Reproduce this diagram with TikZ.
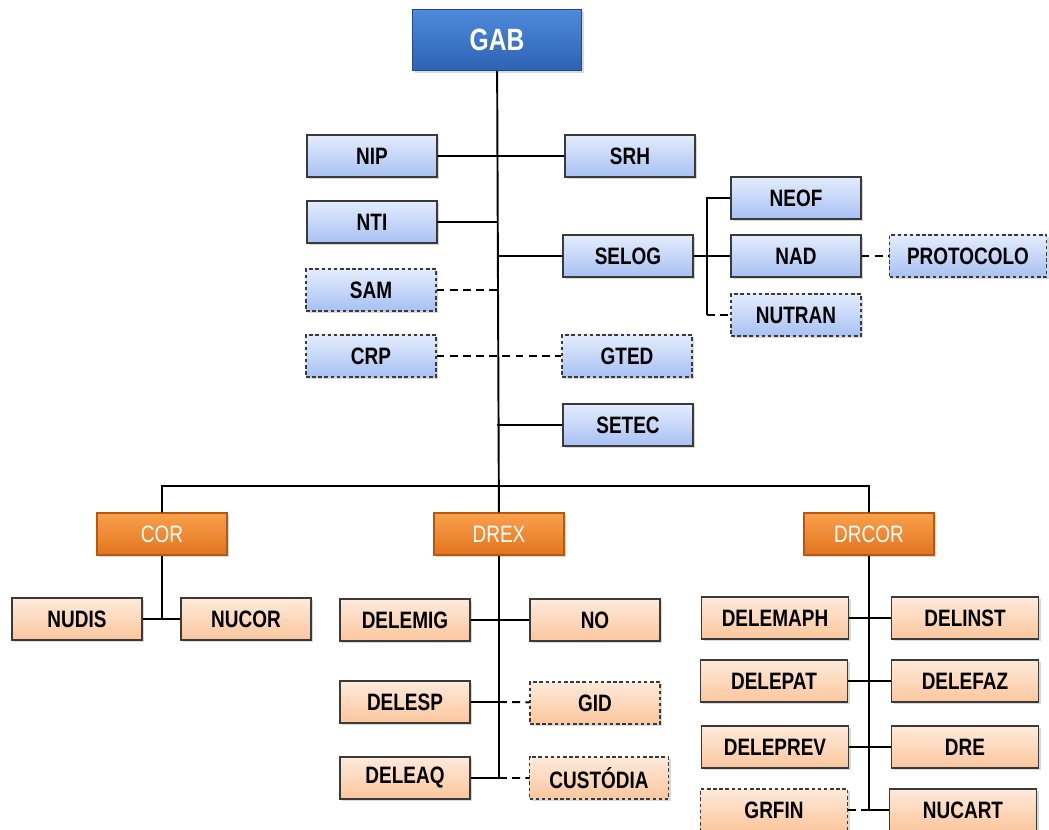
\documentclass[tikz,border=0pt]{standalone}
\usepackage{fontspec}
\setmainfont{Liberation Sans}[FakeStretch=0.8]
\usetikzlibrary{positioning, shadows}

\definecolor{gabtop}{HTML}{4F8BDB}
\definecolor{gabbot}{HTML}{2D62B4}
\definecolor{gabline}{HTML}{1F4A8A}
\definecolor{bluetop}{HTML}{E4ECFC}
\definecolor{bluebot}{HTML}{A7C1F3}
\definecolor{orgtop}{HTML}{FAA04C}
\definecolor{orgbot}{HTML}{E2741E}
\definecolor{orgline}{HTML}{B9570F}
\definecolor{peachtop}{HTML}{FEEADB}
\definecolor{peachbot}{HTML}{FBC69D}
\definecolor{boxline}{HTML}{3A3A3A}

\begin{document}
\begin{tikzpicture}[x=0.02cm, y=-0.02cm,
    line width=1.1pt,
    every node/.style={font=\bfseries\fontsize{13.5}{15}\selectfont, inner sep=0pt,
      minimum width=2.6cm, minimum height=0.84cm},
    basebox/.style={draw=boxline, line width=0.6pt,
      drop shadow={shadow xshift=1.2pt, shadow yshift=-1.2pt, opacity=0.3}},
    bluebox/.style={basebox, top color=bluetop, bottom color=bluebot},
    peachbox/.style={basebox, top color=peachtop, bottom color=peachbot},
    dashbox/.style={dash pattern=on 2pt off 1.5pt},
    headbox/.style={basebox, draw=orgline, top color=orgtop, bottom color=orgbot,
      text=white, font=\fontsize{13.5}{15}\selectfont},
    topbox/.style={basebox, draw=gabline, top color=gabtop, bottom color=gabbot,
      text=white, font=\bfseries\fontsize{17.5}{19}\selectfont,
      minimum width=3.38cm, minimum height=1.22cm},
    link/.style={draw=black, line width=1.1pt},
    opt/.style={link, dash pattern=on 4.5pt off 3pt}]

    \useasboundingbox (0,0) rectangle (1049,830);

    % top level
    \node[topbox] (gab) at (497,40) {GAB};

    \node[bluebox]          (nip)   at (372,156) {NIP};
    \node[bluebox]          (srh)   at (630,156) {SRH};
    \node[bluebox]          (nti)   at (372,222) {NTI};
    \node[bluebox]          (selog) at (628,256) {SELOG};
    \node[bluebox,dashbox]  (sam)   at (371,290) {SAM};
    \node[bluebox,dashbox]  (crp)   at (371,356) {CRP};
    \node[bluebox,dashbox]  (gted)  at (627,356) {GTED};
    \node[bluebox]          (setec) at (628,425) {SETEC};

    % selog units
    \node[bluebox]          (neof)   at (796,198) {NEOF};
    \node[bluebox]          (nad)    at (796,256) {NAD};
    \node[bluebox,dashbox]  (nutran) at (796,315) {NUTRAN};
    \node[bluebox,dashbox,minimum width=3.14cm] (protocolo) at (968,256) {PROTOCOLO};

    % directorates
    \node[headbox] (cor)   at (162,534) {COR};
    \node[headbox] (drex)  at (499,534) {DREX};
    \node[headbox] (drcor) at (869,534) {DRCOR};
    \coordinate (bus) at (497,486);

    \node[peachbox] (nudis) at (77,619)  {NUDIS};
    \node[peachbox] (nucor) at (246,619) {NUCOR};

    \node[peachbox]         (delemig)  at (405,620) {DELEMIG};
    \node[peachbox]         (no)       at (595,620) {NO};
    \node[peachbox]         (delesp)   at (405,702) {DELESP};
    \node[peachbox,dashbox] (gid)      at (595,703) {GID};
    \node[peachbox]         (deleaq)   at (405,778) {DELEAQ};
    \node[peachbox,dashbox,minimum width=2.78cm] (custodia) at (599,778) {CUSTÓDIA};

    \begin{scope}[every node/.append style={minimum width=2.94cm}]
    \node[peachbox]         (delemaph) at (775,618) {DELEMAPH};
    \node[peachbox]         (delinst)  at (965,618) {DELINST};
    \node[peachbox]         (delepat)  at (774,681) {DELEPAT};
    \node[peachbox]         (delefaz)  at (965,681) {DELEFAZ};
    \node[peachbox]         (deleprev) at (775,747) {DELEPREV};
    \node[peachbox]         (dre)      at (965,747) {DRE};
    \node[peachbox,dashbox] (grfin)    at (774,810) {GRFIN};
    \node[peachbox]         (nucart)   at (963,810) {NUCART};
    \end{scope}

    % connectors
    \path[link]
    (gab) -- (drex)
    (nip) -- (srh)
    (nti) -- (nti -| gab)
    (selog) -- (selog -| gab)
    (setec) -- (setec -| gab)
    (cor) |- (bus) -| (drcor);
    \path[opt]
    (sam) -- (sam -| gab)
    (crp) -- (gted);

    \coordinate (selogj) at (707,256);
    \path[link]
    (selog) -- (nad)
    (neof) -| (selogj) -- (selogj |- nutran);
    \path[opt]
    (selogj |- nutran) -- (nutran)
    (nad) -- (protocolo);

    \path[link]
    (cor) -- (cor |- nudis)
    (nudis) -- (nucor);

    \path[link]
    (drex) -- (drex |- deleaq)
    (delemig) -- (no)
    (delesp) -- (delesp -| drex)
    (deleaq) -- (deleaq -| drex);
    \path[opt]
    (delesp -| drex) -- (gid)
    (deleaq -| drex) -- (custodia);

    \path[link]
    (drcor) -- (drcor |- nucart)
    (delemaph) -- (delinst)
    (delepat) -- (delefaz)
    (deleprev) -- (dre)
    (grfin -| drcor) -- (nucart);
    \path[opt]
    (grfin) -- (grfin -| drcor);
\end{tikzpicture}
\end{document}
